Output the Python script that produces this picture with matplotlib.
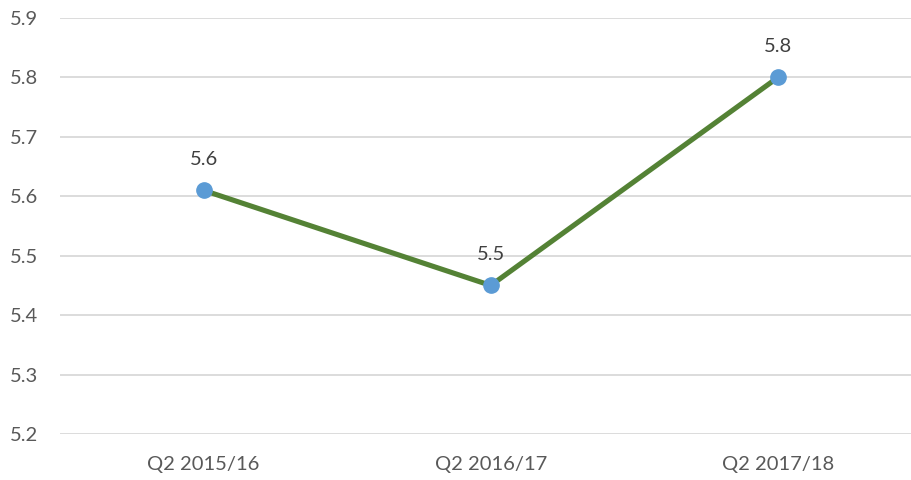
import matplotlib
matplotlib.use("Agg")
import matplotlib.pyplot as plt

# quarter labels and values
quarters = ["Q2 2015/16", "Q2 2016/17", "Q2 2017/18"]
values = [5.61, 5.45, 5.80]
labels = ["5.6", "5.5", "5.8"]
yticks = [5.2, 5.3, 5.4, 5.5, 5.6, 5.7, 5.8, 5.9]

plt.rcParams["font.family"] = ["Lato", "DejaVu Sans"]

fig = plt.figure(figsize=(9.12, 4.8), dpi=100)
ax = fig.add_axes([60 / 912, 1 - 434 / 480, 852 / 912, 416 / 480])

x = list(range(len(quarters)))
ax.plot(x, values, color="#548235", linewidth=3.7, solid_capstyle="round",
        marker="o", markersize=11, markerfacecolor="#5B9BD5",
        markeredgecolor="#5B9BD5", zorder=3)

for xi, v, lab in zip(x, values, labels):
    ax.annotate(lab, (xi, v), xytext=(0, 22.5), textcoords="offset points",
                ha="center", va="center", fontsize=14.5, color="#404040")

ax.set_xlim(-0.5, 2 + 134 / 287)
ax.set_ylim(5.2, 5.9)
ax.set_xticks(x)
ax.set_xticklabels(quarters)
ax.set_yticks(yticks)
ax.set_yticklabels([f"{t:.1f}" for t in yticks])
ax.tick_params(length=0, labelsize=14.5, labelcolor="#595959")
ax.tick_params(axis="y", pad=16)
ax.tick_params(axis="x", pad=16)

ax.grid(axis="y", color="#D9D9D9", linewidth=1.3)
ax.set_axisbelow(True)
for s in ax.spines.values():
    s.set_visible(False)

fig.savefig("out.png", dpi=100)
